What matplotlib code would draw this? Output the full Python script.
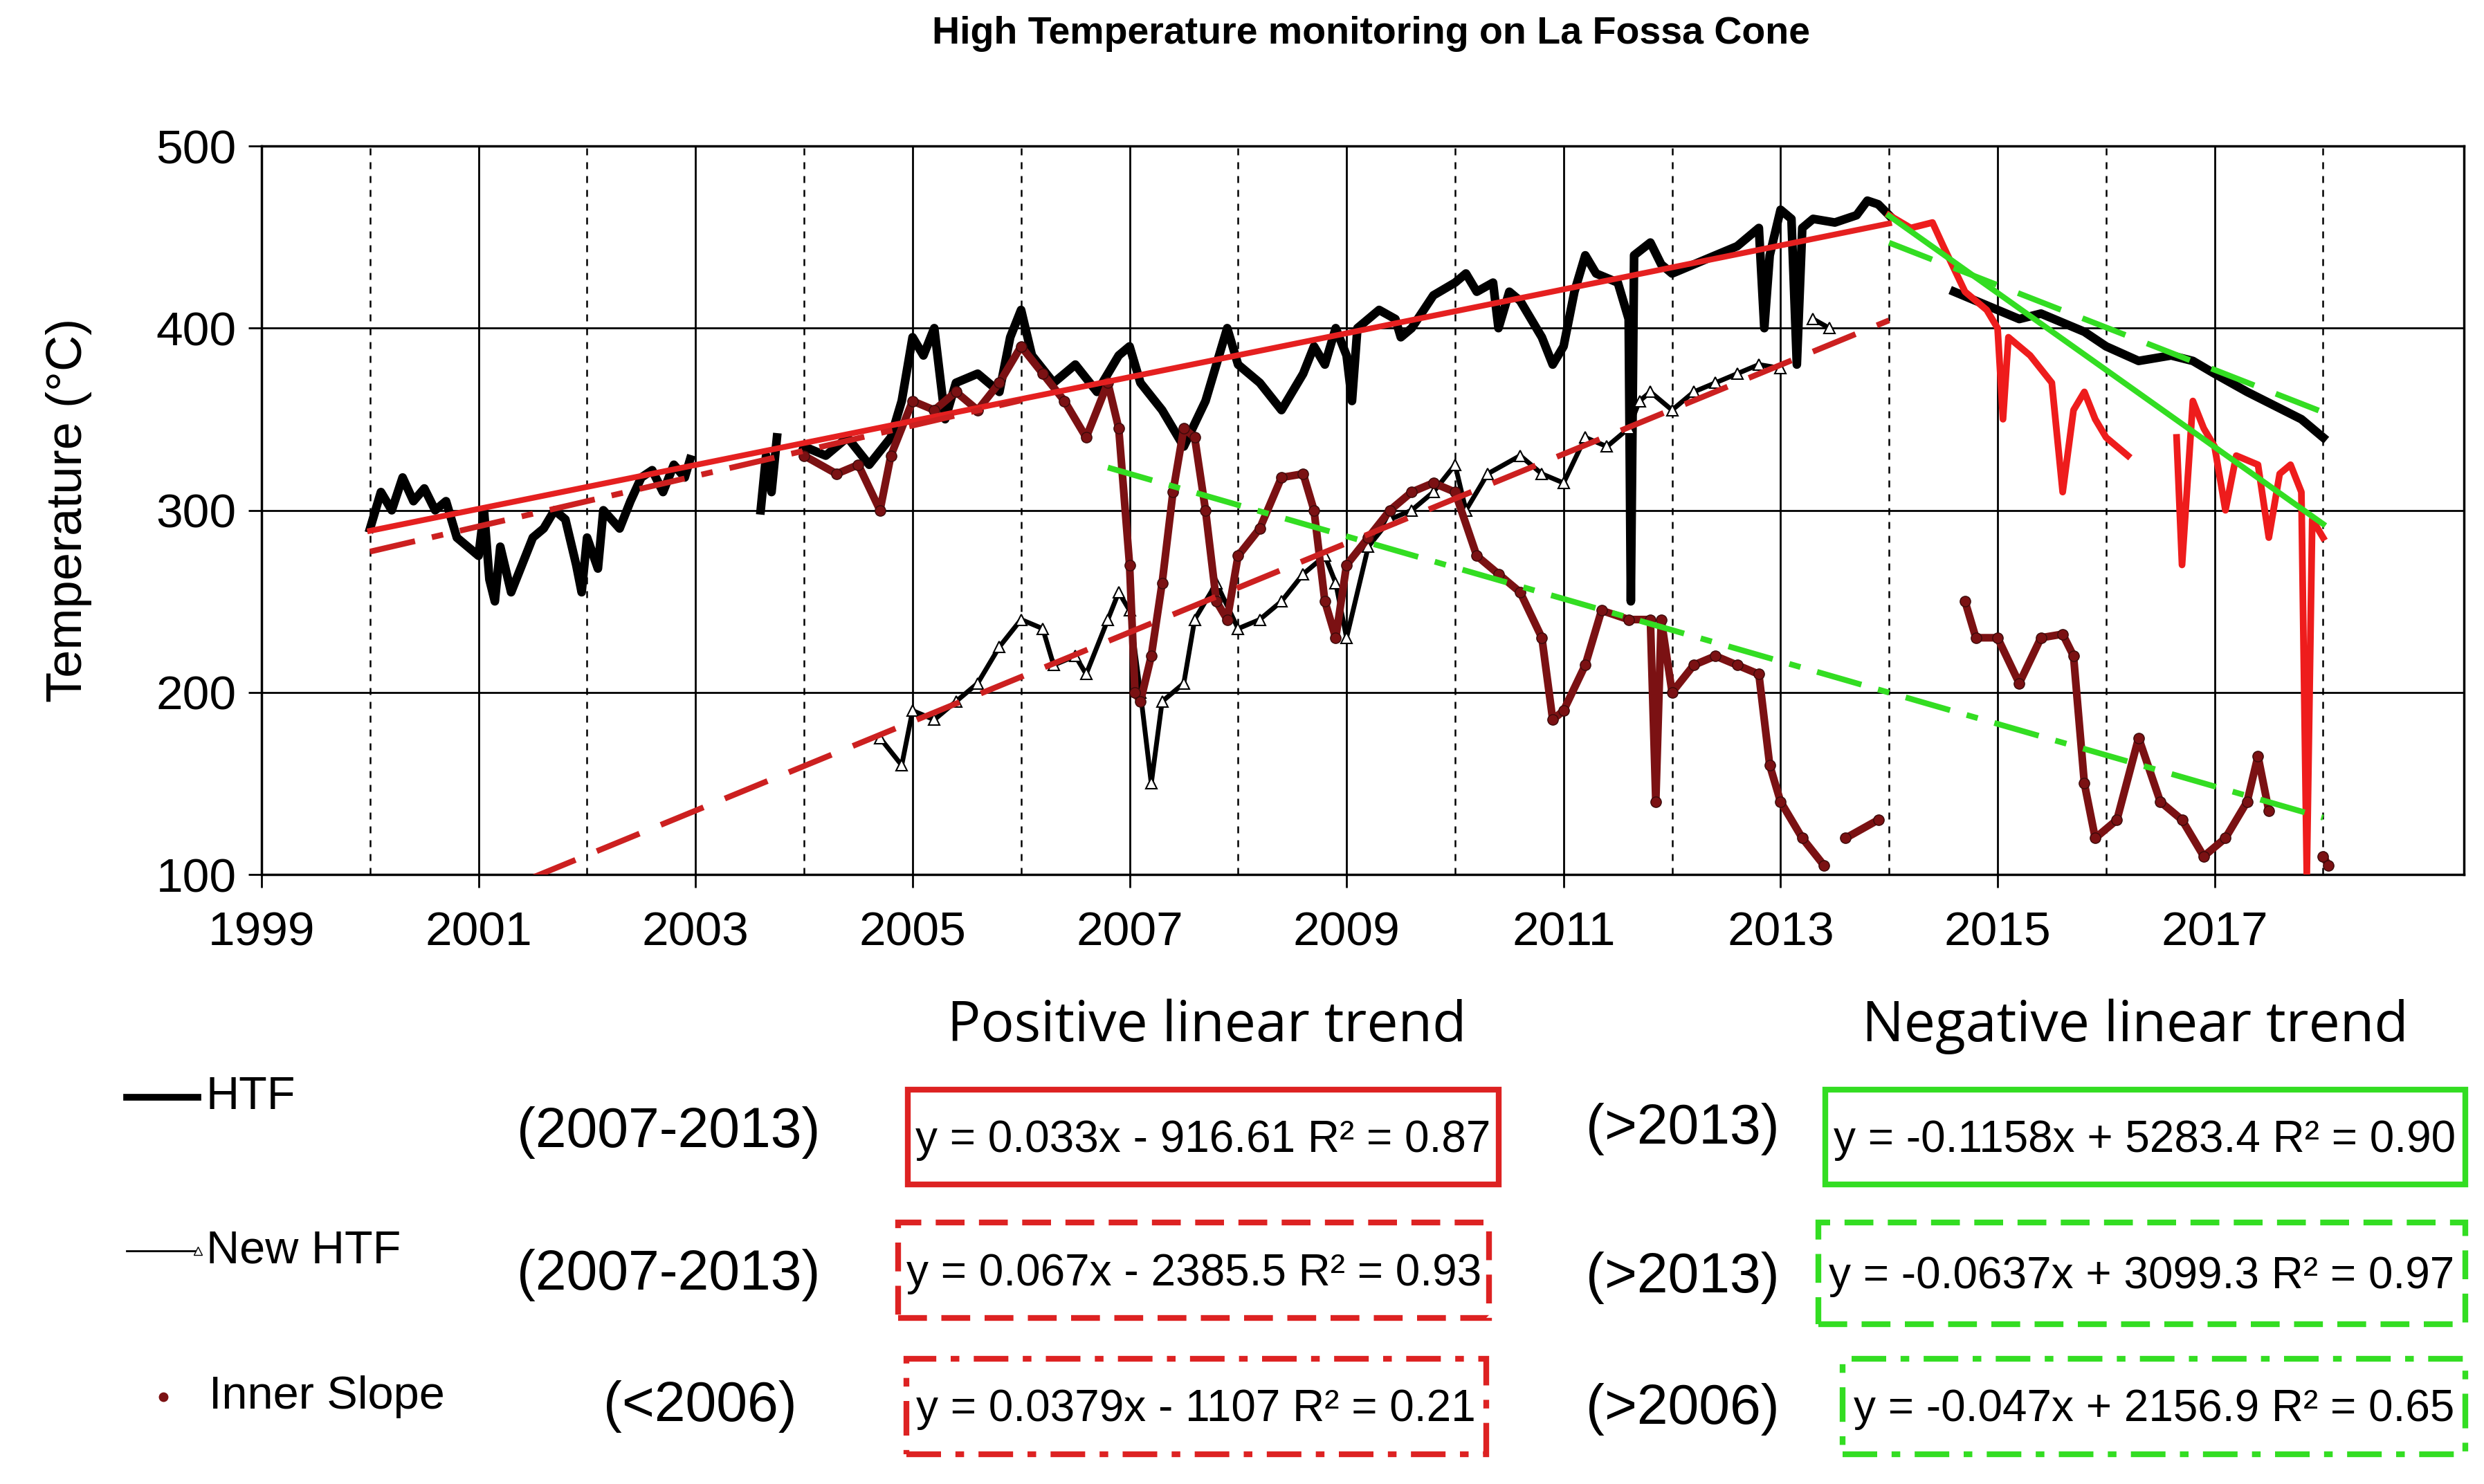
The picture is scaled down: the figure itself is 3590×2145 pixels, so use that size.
import numpy as np
import matplotlib
matplotlib.use("Agg")
import matplotlib.pyplot as plt
from matplotlib.patches import Rectangle
from matplotlib.lines import Line2D

plt.rcParams['font.family'] = ['Liberation Sans', 'DejaVu Sans']
nan = np.nan

# ---------------- data ----------------
htf_t = [2000.0,2000.1,2000.2,2000.3,2000.4,2000.5,2000.6,2000.7,2000.8,2000.9,2001.0,2001.05,2001.1,2001.15,2001.2,2001.3,2001.4,2001.5,2001.6,2001.7,2001.8,2001.9,2001.95,2002.0,2002.1,2002.15,2002.3,2002.4,2002.5,2002.6,2002.7,2002.8,2002.9,2002.95,
         nan,2003.6,2003.65,2003.7,2003.75,nan,
         2004.0,2004.2,2004.4,2004.6,2004.8,2004.9,2005.0,2005.1,2005.2,2005.3,2005.4,2005.6,2005.8,2005.9,2006.0,2006.1,2006.3,2006.5,2006.7,2006.9,2007.0,2007.1,2007.3,2007.5,2007.7,2007.9,2008.0,2008.2,2008.4,2008.6,2008.7,2008.8,2008.9,2009.0,2009.05,2009.1,2009.2,2009.3,2009.45,2009.5,2009.6,2009.8,2010.0,2010.1,2010.2,2010.35,2010.4,2010.5,2010.6,2010.7,2010.8,2010.9,2011.0,2011.1,2011.2,2011.3,2011.5,2011.6,2011.62,2011.65,2011.8,2011.9,2012.0,2012.2,2012.4,2012.6,2012.7,2012.8,2012.85,2012.9,2013.0,2013.1,2013.15,2013.2,2013.3,2013.5,2013.7,2013.8,2013.9,2014.0,
         nan,2014.6,2014.8,2015.0,2015.2,2015.4,2015.6,2015.8,2016.0,2016.3,2016.6,2016.8,2017.0,2017.3,2017.6,2017.8,2018.0]
htf_v = [290,310,300,318,305,312,300,305,285,280,275,300,262,250,280,255,270,285,290,300,295,270,255,285,268,300,290,305,318,322,310,325,318,328,
         nan,300,330,310,340,nan,
         335,330,340,325,340,360,395,385,400,350,370,375,365,395,410,385,370,380,365,385,390,370,355,335,360,400,380,370,355,375,390,380,400,385,360,400,405,410,405,395,400,418,425,430,420,425,400,420,415,405,395,380,390,420,440,430,425,405,250,440,447,435,430,435,440,445,450,455,400,440,465,460,380,455,460,458,462,470,468,462,
         nan,420,415,410,405,408,403,398,390,382,385,382,375,365,356,350,340]

newhtf_t = [2004.7,2004.9,2005.0,2005.2,2005.4,2005.6,2005.8,2006.0,2006.2,2006.3,2006.5,2006.6,2006.8,2006.9,2007.0,2007.1,2007.2,2007.3,2007.5,2007.6,2007.8,2008.0,2008.2,2008.4,2008.6,2008.8,2008.9,2009.0,2009.2,2009.4,2009.6,2009.8,2010.0,2010.1,2010.3,2010.6,2010.8,2011.0,2011.2,2011.4,2011.6,2011.7,2011.8,2012.0,2012.2,2012.4,2012.6,2012.8,2013.0,nan,2013.3,2013.45]
newhtf_v = [175,160,190,185,195,205,225,240,235,215,220,210,240,255,245,200,150,195,205,240,260,235,240,250,265,275,260,230,280,295,300,310,325,300,320,330,320,315,340,335,345,360,365,355,365,370,375,380,378,nan,405,400]

inner_t = [2004.0,2004.3,2004.5,2004.7,2004.8,2005.0,2005.2,2005.4,2005.6,2005.8,2006.0,2006.2,2006.4,2006.6,2006.8,2006.9,2007.0,2007.05,2007.1,2007.2,2007.3,2007.4,2007.5,2007.6,2007.7,2007.8,2007.9,2008.0,2008.2,2008.4,2008.6,2008.7,2008.8,2008.9,2009.0,2009.2,2009.4,2009.6,2009.8,2010.0,2010.2,2010.4,2010.6,2010.8,2010.9,2011.0,2011.2,2011.35,2011.6,2011.8,2011.85,2011.9,2012.0,2012.2,2012.4,2012.6,2012.8,2012.9,2013.0,2013.2,2013.4,nan,2013.6,2013.9,nan,
           2014.7,2014.8,2015.0,2015.2,2015.4,2015.6,2015.7,2015.8,2015.9,2016.1,2016.3,2016.5,2016.7,2016.9,2017.1,2017.3,2017.4,2017.5,nan,2018.0,2018.05]
inner_v = [330,320,325,300,330,360,355,365,355,370,390,375,360,340,370,345,270,200,195,220,260,310,345,340,300,250,240,275,290,318,320,300,250,230,270,285,300,310,315,310,275,265,255,230,185,190,215,245,240,240,140,240,200,215,220,215,210,160,140,120,105,nan,120,130,nan,
           250,230,230,205,230,232,220,150,120,130,175,140,130,110,120,140,165,135,nan,110,105]

red_t = [2014.0,2014.2,2014.4,2014.5,2014.7,2014.9,2015.0,2015.05,2015.1,2015.3,2015.5,2015.6,2015.7,2015.8,2015.9,2016.0,2016.1,2016.2,nan,2016.65,2016.7,2016.8,2016.9,2017.0,2017.1,2017.2,2017.4,2017.5,2017.6,2017.7,2017.8,2017.85,2017.9,2018.0]
red_v = [462,455,458,445,420,410,400,350,395,385,370,310,355,365,350,340,335,330,nan,340,270,360,345,335,300,330,325,285,320,325,310,100,295,285]

# trend lines: slope, intercept (x = Excel serial date), start year, end year
pos_slope = [0.033, 0.067, 0.0379]
pos_int = [-916.61, -2385.5, -1107]
pos_range = [(2000.0, 2014.0), (2001.5, 2014.0), (2000.0, 2006.0)]
neg_slope = [-0.1158, -0.0637, -0.047]
neg_int = [5283.4, 3099.3, 2156.9]
neg_range = [(2014.0, 2018.0), (2014.0, 2018.0), (2006.8, 2018.0)]

pos_eq = ["y = 0.033x - 916.61 R² = 0.87", "y = 0.067x - 2385.5 R² = 0.93", "y = 0.0379x - 1107 R² = 0.21"]
neg_eq = ["y = -0.1158x + 5283.4 R² = 0.90", "y = -0.0637x + 3099.3 R² = 0.97", "y = -0.047x + 2156.9 R² = 0.65"]
pos_per = ["(2007-2013)", "(2007-2013)", "(<2006)"]
neg_per = ["(>2013)", "(>2013)", "(>2006)"]
legend_labels = ["HTF", "New HTF", "Inner Slope"]

def to_serial(y):
    return (np.asarray(y) - 1900.0) * 365.2425 + 1

# ---------------- figure ----------------
fig = plt.figure(figsize=(35.9, 21.45), dpi=100)
ax = fig.add_axes([0.1053, 0.4107, 0.8867, 0.4909])
ax.set_xlim(1999, 2019.3)
ax.set_ylim(100, 500)

for yr in range(2000, 2019):
    ax.axvline(yr, color='black', lw=2 if yr % 2 else 1.8, ls='-' if yr % 2 else (0, (4, 4)), zorder=0)
for v in range(200, 500, 100):
    ax.axhline(v, color='black', lw=2, zorder=0)

DRED = '#7b1113'
ax.plot(htf_t, htf_v, color='black', lw=9, zorder=2)
ax.plot(newhtf_t, newhtf_v, color='black', lw=5, marker='^', ms=12, mfc='white', mec='black', mew=1.5, zorder=2)
ax.plot(inner_t, inner_v, color=DRED, lw=8, marker='o', ms=11, mec='#3a0a0a', zorder=3)
ax.plot(red_t, red_v, color='#ee1c1c', lw=7, zorder=3)

styles = ['-', (0, (8, 4)), (0, (8, 3, 2, 3))]
for m, b, (a, e), ls in zip(pos_slope, pos_int, pos_range, styles):
    xs = np.array([a, e])
    ax.plot(xs, m * to_serial(xs) + b, color='#e52020' if ls == '-' else '#cc2020', lw=6, ls=ls, zorder=4)
for m, b, (a, e), ls in zip(neg_slope, neg_int, neg_range, styles):
    xs = np.array([a, e])
    ax.plot(xs, m * to_serial(xs) + b, color='#33dd22', lw=6, ls=ls, zorder=4)

ax.set_xticks(range(1999, 2019, 2))
ax.set_xticklabels([str(y) for y in range(1999, 2019, 2)])
ax.set_yticks(range(100, 501, 100))
ax.tick_params(axis='both', labelsize=50, length=14, width=2, direction='out')
ax.tick_params(axis='x', pad=24)
ax.tick_params(axis='y', pad=12)
for s in ax.spines.values():
    s.set_linewidth(2.5)
ax.set_ylabel("Temperature (°C)", fontsize=52)
ax.yaxis.set_label_coords(-0.077, 0.5)

fig.text(0.552, 0.977, "High Temperature monitoring on La Fossa Cone", ha='center', va='center',
         fontsize=40, fontweight='bold')

# ---------------- bottom panel ----------------
H = 937.0; W = 1568.0
def fx(x): return x / W
def fy(y): return 1 - y / H

fig.text(fx(762), fy(648), "Positive linear trend", ha='center', va='center', fontsize=58, family=['Open Sans', 'DejaVu Sans'])
fig.text(fx(1348), fy(648), "Negative linear trend", ha='center', va='center', fontsize=58, family=['Open Sans', 'DejaVu Sans'])

leg_y = [693, 790, 882]
fig.add_artist(Line2D([fx(80), fx(125)], [fy(693), fy(693)], color='black', lw=7))
fig.add_artist(Line2D([fx(80), fx(125)], [fy(790), fy(790)], color='black', lw=2, marker='^', markevery=[1], ms=8, mfc='white'))
fig.add_artist(Line2D([fx(103)], [fy(882)], color=DRED, marker='o', ms=9, ls='none'))
leg_x = [130, 130, 132]
for lab, y, x in zip(legend_labels, leg_y, leg_x):
    fig.text(fx(x), fy(y), lab, ha='left', va='center', fontsize=48)

per_x = [422, 422, 442]
per_y = [715, 805, 888]
for p, x, y in zip(pos_per, per_x, per_y):
    fig.text(fx(x), fy(y), p, ha='center', va='center', fontsize=58)
nper_y = [713, 807, 890]
for p, y in zip(neg_per, nper_y):
    fig.text(fx(1062), fy(y), p, ha='center', va='center', fontsize=58)

box_ls = ['-', (0, (5, 2.5)), (0, (6, 2.5, 1.5, 2.5))]
pos_boxes = [(573, 688, 946, 748), (567, 772, 940, 832), (572, 858, 938, 918)]
neg_boxes = [(1152, 688, 1556, 748), (1148, 772, 1556, 836), (1163, 858, 1556, 918)]
for eqs, boxes, col in [(pos_eq, pos_boxes, '#dd2222'), (neg_eq, neg_boxes, '#33dd22')]:
    for eq, (x0, y0, x1, y1), ls in zip(eqs, boxes, box_ls):
        fig.add_artist(Rectangle((fx(x0), fy(y1)), fx(x1) - fx(x0), fy(y0) - fy(y1),
                                 transform=fig.transFigure, fill=False, ec=col, lw=6, ls=ls))
        fig.text(fx((x0 + x1) / 2), fy((y0 + y1) / 2 + 2), eq, ha='center', va='center', fontsize=46)

fig.savefig("out.png", dpi=100)
